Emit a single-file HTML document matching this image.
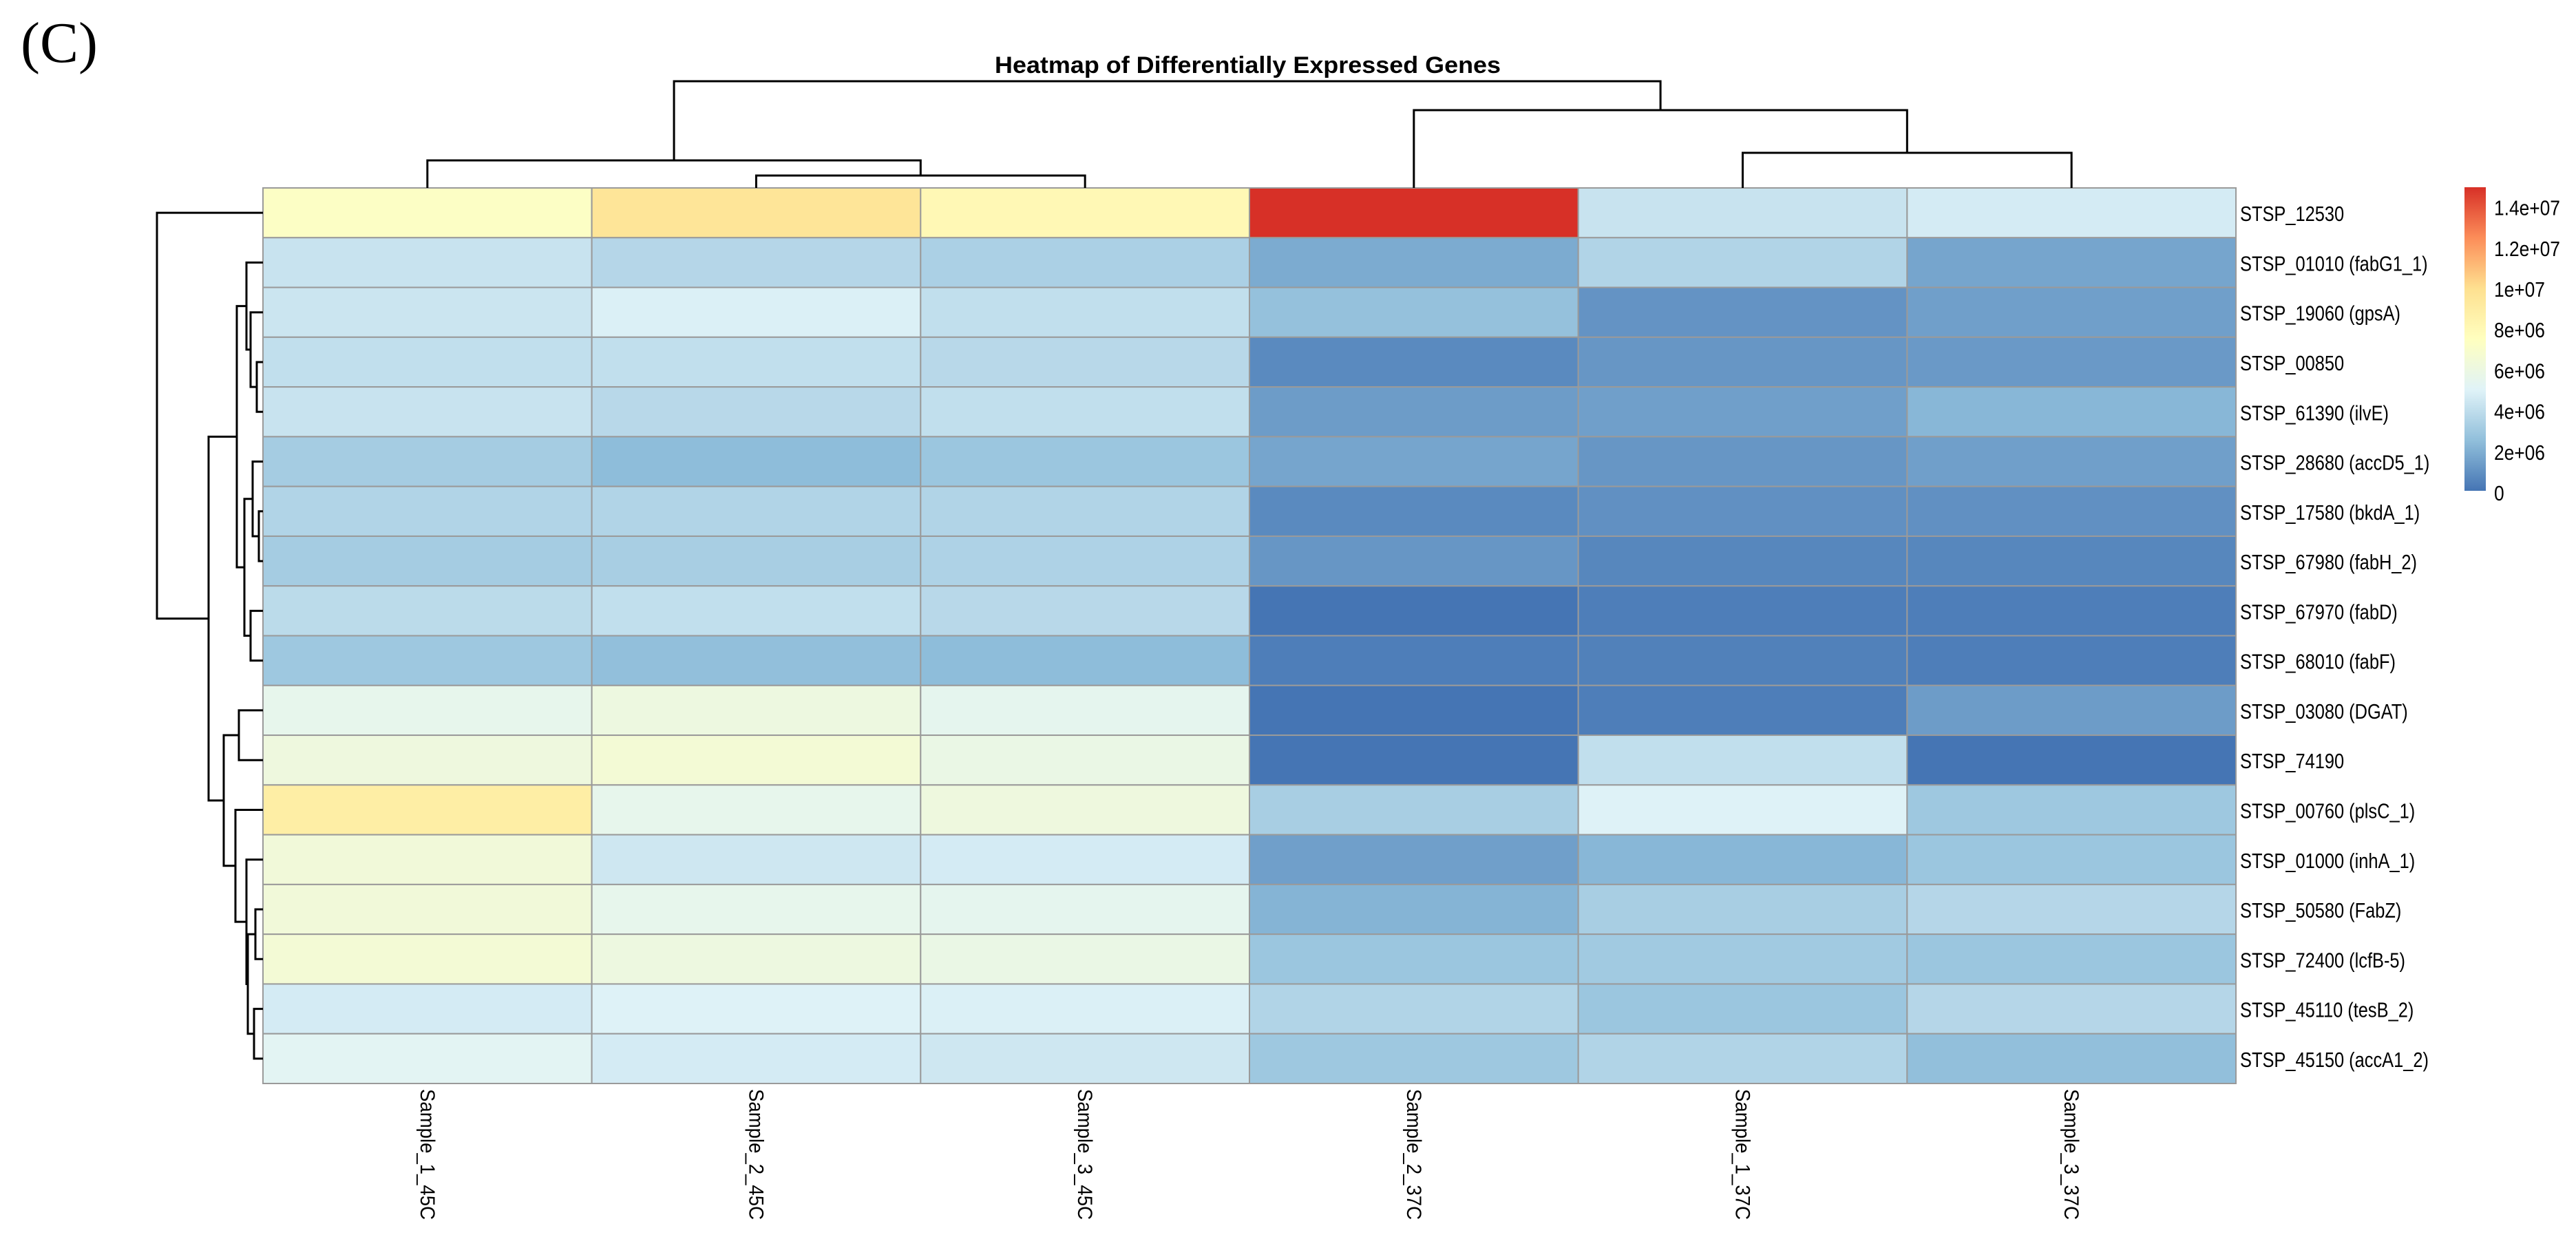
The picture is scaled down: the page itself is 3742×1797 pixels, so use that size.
<!DOCTYPE html>
<html><head><meta charset="utf-8"><style>
html,body{margin:0;padding:0;background:#fff;}
svg{display:block;}
</style></head><body>
<svg id="chart" width="3742" height="1797" viewBox="0 0 3742 1797" xmlns="http://www.w3.org/2000/svg">
<text x="30" y="90" font-family="Liberation Serif, serif" font-size="84">(C)</text>
<text x="1445" y="106" font-family="Liberation Sans, sans-serif" font-weight="bold" font-size="34" textLength="735" lengthAdjust="spacingAndGlyphs">Heatmap of Differentially Expressed Genes</text>
<g id="cells"></g><g id="rowdend"></g><g id="coldend"></g><g id="labels"></g><g id="legend"></g>
</svg>
<script>
const samples = ["Sample_1_45C","Sample_2_45C","Sample_3_45C","Sample_2_37C","Sample_1_37C","Sample_3_37C"];
const genes = ["STSP_12530","STSP_01010 (fabG1_1)","STSP_19060 (gpsA)","STSP_00850","STSP_61390 (ilvE)","STSP_28680 (accD5_1)","STSP_17580 (bkdA_1)","STSP_67980 (fabH_2)","STSP_67970 (fabD)","STSP_68010 (fabF)","STSP_03080 (DGAT)","STSP_74190","STSP_00760 (plsC_1)","STSP_01000 (inhA_1)","STSP_50580 (FabZ)","STSP_72400 (lcfB-5)","STSP_45110 (tesB_2)","STSP_45150 (accA1_2)"];
// expression values (units of 1e6)
const values = [
[7.2,9.5,8.0,14.9,4.2,4.6],
[4.2,3.6,3.3,1.8,3.5,1.6],
[4.3,4.8,4.0,2.6,1.0,1.4],
[4.0,4.0,3.7,0.7,1.1,1.2],
[4.2,3.7,4.0,1.3,1.4,2.2],
[3.1,2.4,2.8,1.6,1.1,1.4],
[3.5,3.5,3.5,0.7,0.9,0.9],
[3.1,3.2,3.4,1.1,0.6,0.6],
[3.8,4.0,3.7,0.0,0.3,0.3],
[2.9,2.5,2.4,0.3,0.4,0.3],
[5.5,6.0,5.4,0.0,0.3,1.3],
[6.1,6.5,5.8,0.0,4.0,0.0],
[8.8,5.5,6.1,3.2,4.9,2.9],
[6.3,4.4,4.6,1.4,2.2,2.8],
[6.3,5.5,5.4,2.1,3.2,3.6],
[6.5,6.0,5.8,2.8,3.0,2.8],
[4.6,4.9,4.8,3.5,2.8,3.6],
[5.2,4.6,4.4,2.9,3.5,2.5]];
const legendTicks = [0,2,4,6,8,10,12,14];
const legendTickLabels = ["0","2e+06","4e+06","6e+06","8e+06","1e+07","1.2e+07","1.4e+07"];
// column dendrogram: [left, right, height]; negative = leaf index, positive = merge number (1-based)
const colMerges = [[-2,-3,18],[-5,-6,51],[-1,1,40],[-4,2,113],[3,4,155]];
const rowMerges = [
[-4,-5,9],[-7,-8,6],[-15,-16,11],[-17,-18,13],[-3,1,18],[-9,-10,18],[-6,2,15],
[3,4,22],[-2,5,24],[7,6,27],[-14,8,24],[-11,-12,35],[9,10,38],[-13,11,40],
[12,14,57],[13,15,79],[-1,16,154]];

const NS="http://www.w3.org/2000/svg";
const X0=382, X1=3248, Y0=273, Y1=1574;
const cw=(X1-X0)/samples.length, rh=(Y1-Y0)/genes.length;
const vmin=0, vmax=14.9;
const stops=["#4575B4","#91BFDB","#E0F3F8","#FFFFBF","#FEE090","#FC8D59","#D73027"];
function hex(h){return [1,3,5].map(i=>parseInt(h.substr(i,2),16));}
function color(v){let t=(v-vmin)/(vmax-vmin);t=Math.max(0,Math.min(1,t));const s=t*(stops.length-1);const i=Math.min(stops.length-2,Math.floor(s));const f=s-i;const a=hex(stops[i]),b=hex(stops[i+1]);return "rgb("+a.map((c,k)=>Math.round(c+(b[k]-c)*f)).join(",")+")";}
function xs(j){return X0+j*cw;}
function ys(i){return Y0+i*rh;}
function mk(tag,attrs,parent){const e=document.createElementNS(NS,tag);for(const k in attrs)e.setAttribute(k,attrs[k]);parent.appendChild(e);return e;}
const gc=document.getElementById("cells");
values.forEach((row,i)=>row.forEach((v,j)=>{
  const r=mk("rect",{x:xs(j),y:ys(i),width:cw,height:rh,fill:color(v),stroke:"#9a9a9a","stroke-width":2},gc);
  
  
}));
const gl=document.getElementById("labels");
genes.forEach((g,i)=>{
  const lx=X1+6, lyy=ys(i)+rh/2+12;
  const t=mk("text",{x:0,y:0,transform:"translate("+lx+" "+lyy+") scale(0.82 1)","font-family":"Liberation Sans, sans-serif","font-size":31,fill:"#000"},gl);
  t.textContent=g;
  
  
});
samples.forEach((s,j)=>{
  const cx=xs(j)+cw/2, cy=1582;
  const t=mk("text",{x:0,y:0,transform:"translate("+(cx-10)+" "+cy+") rotate(90)","font-family":"Liberation Sans, sans-serif","font-size":30,textLength:190,lengthAdjust:"spacingAndGlyphs",fill:"#000"},gl);
  t.textContent=s;
  
  
});
function dend(merges,leafPos,hScale,g,horizontal){
  const pos={},ht={};
  function p(id){return id<0?leafPos(-id-1):pos[id];}
  function h(id){return id<0?0:ht[id];}
  merges.forEach((m,k)=>{
    const id=k+1,a=m[0],b=m[1],H=m[2];
    const pa=p(a),pb=p(b);
    const ha=hScale(h(a)),hb=hScale(h(b)),hh=hScale(H);
    let d;
    if(horizontal){d="M"+ha+" "+pa+"H"+hh+"V"+pb+"H"+hb;}
    else{d="M"+pa+" "+ha+"V"+hh+"H"+pb+"V"+hb;}
    const e=mk("path",{d:d,fill:"none",stroke:"#000","stroke-width":3},g);
    
    
    pos[id]=(pa+pb)/2;ht[id]=H;
  });
}
dend(colMerges,j=>xs(j)+cw/2,h=>Y0-h,document.getElementById("coldend"),false);
dend(rowMerges,i=>ys(i)+rh/2,h=>X0-h,document.getElementById("rowdend"),true);
const lg=document.getElementById("legend");
const LX=3580,LW=31,LT=272,LB=713,LMAX=14.9;
const defs=mk("defs",{},lg);
const grad=mk("linearGradient",{id:"lgrad",x1:0,y1:1,x2:0,y2:0},defs);
stops.forEach((c,k)=>mk("stop",{offset:(k/(stops.length-1)),"stop-color":c},grad));
const bar=mk("rect",{x:LX,y:LT,width:LW,height:LB-LT,fill:"url(#lgrad)"},lg);


function ly(v){return LB-(v-vmin)/(LMAX-vmin)*(LB-LT);}
legendTicks.forEach((v,k)=>{
  const t=mk("text",{x:0,y:0,transform:"translate("+(LX+43)+" "+(ly(v)+14)+") scale(0.85 1)","font-family":"Liberation Sans, sans-serif","font-size":31,fill:"#000"},lg);
  t.textContent=legendTickLabels[k];
  
  
});
</script>
</body></html>
